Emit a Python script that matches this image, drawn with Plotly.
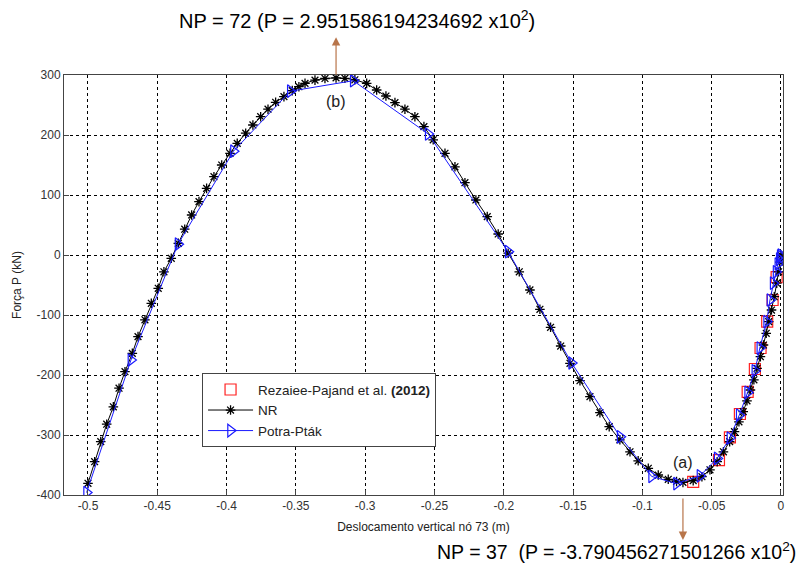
import plotly.graph_objects as go

# Newton-Raphson (NR) equilibrium path: vertical displacement of node 73 (m) vs load P (kN)
nr_x = [-0.5000, -0.4952, -0.4908, -0.4865, -0.4817, -0.4776, -0.4733, -0.4680, -0.4639, -0.4589,
        -0.4543, -0.4493, -0.4452, -0.4399, -0.4348, -0.4302, -0.4252, -0.4199, -0.4144, -0.4091,
        -0.4035, -0.3975, -0.3923, -0.3862, -0.3810, -0.3754, -0.3701, -0.3646, -0.3586, -0.3526,
        -0.3478, -0.3434, -0.3362, -0.3290, -0.3210, -0.3146, -0.3074, -0.2989, -0.2917, -0.2850,
        -0.2785, -0.2713, -0.2641, -0.2576, -0.2509, -0.2424, -0.2352, -0.2280, -0.2201, -0.2119,
        -0.2040, -0.1968, -0.1888, -0.1811, -0.1739, -0.1662, -0.1589, -0.1522, -0.1450, -0.1378,
        -0.1306, -0.1239, -0.1162, -0.1089, -0.1030, -0.0957, -0.0885, -0.0813, -0.0753, -0.0707,
        -0.0633, -0.0570, -0.0512, -0.0460, -0.0415, -0.0370, -0.0335, -0.0303, -0.0272, -0.0245,
        -0.0220, -0.0195, -0.0172, -0.0148, -0.0126, -0.0106, -0.0088, -0.0068, -0.0048, -0.0030,
        -0.0017, -0.0007, 0.0000]
nr_p = [-380.5, -344.5, -311.0, -282.0, -253.0, -222.0, -194.5, -164.0, -136.0, -108.0,
        -80.5, -55.5, -28.0, -5.5, 19.5, 43.0, 66.7, 89.0, 111.0, 130.5,
        150.0, 169.5, 186.0, 203.0, 216.7, 230.5, 243.0, 254.5, 264.0, 274.0,
        280.5, 286.0, 291.5, 294.2, 295.16, 294.5, 292.0, 286.0, 275.0, 265.0,
        254.0, 243.0, 230.5, 214.0, 192.0, 169.5, 147.0, 120.5, 91.7, 64.0,
        35.0, 3.0, -28.0, -58.3, -90.5, -120.5, -151.7, -180.5, -209.5, -236.0,
        -262.8, -286.0, -308.0, -328.0, -343.0, -355.5, -366.7, -373.8, -377.5, -379.05,
        -376.0, -369.5, -358.0, -344.5, -328.0, -311.0, -294.5, -278.0, -261.0, -243.0,
        -225.0, -208.0, -189.0, -169.5, -150.0, -130.5, -111.0, -91.7, -69.5, -47.0,
        -28.0, -12.0, 0.0]

# Potra-Pták path
pp_x = [-0.501, -0.469, -0.435, -0.395, -0.354, -0.3086, -0.2545, -0.1968, -0.151, -0.116,
        -0.0933, -0.0753, -0.0584, -0.046, -0.0368, -0.0301, -0.024, -0.0188, -0.0152, -0.0103,
        -0.0079, -0.0056, -0.0035, -0.0022, -0.0012, -0.0005, 0.0]
pp_p = [-396.0, -175.0, 18.0, 173.0, 273.0, 290.5, 201.7, 5.5, -180.0, -303.0,
        -369.0, -381.0, -368.0, -339.0, -305.0, -267.0, -229.0, -193.0, -155.0, -111.0,
        -75.0, -47.0, -28.0, -15.0, -7.0, -2.0, 0.0]

# Rezaiee-Pajand et al. (2012) reference points
rp_x = [-0.0633, -0.0447, -0.0368, -0.0296, -0.0240, -0.0188, -0.0147, -0.0099, -0.0060, -0.0031]
rp_p = [-378.0, -342.0, -304.0, -265.0, -228.0, -190.0, -155.0, -111.0, -75.0, -37.0]

# Axis ticks
x_ticks = [-0.5, -0.45, -0.4, -0.35, -0.3, -0.25, -0.2, -0.15, -0.1, -0.05, 0]
x_tick_labels = ["-0.5", "-0.45", "-0.4", "-0.35", "-0.3", "-0.25", "-0.2", "-0.15", "-0.1", "-0.05", "0"]
y_ticks = [-400, -300, -200, -100, 0, 100, 200, 300]
y_tick_labels = ["-400", "-300", "-200", "-100", "0", "100", "200", "300"]

# Highlighted limit points (load step NP, load P)
peak_np, peak_x, peak_p = 72, -0.3210, 2.951586194234692e2
valley_np, valley_x, valley_p = 37, -0.0707, -3.790456271501266e2

FONT = "Liberation Sans, Arial, sans-serif"
ARROW = "#b8754a"

fig = go.Figure()

fig.add_trace(go.Scatter(
    x=rp_x, y=rp_p, mode="markers", name="Rezaiee-Pajand et al. <b>(2012)</b>",
    marker=dict(symbol="square-open", size=11, color="#ff2020", line=dict(width=1.2)),
))
fig.add_trace(go.Scatter(
    x=nr_x, y=nr_p, mode="lines+markers", name="NR",
    line=dict(color="black", width=1),
    marker=dict(symbol="asterisk-open", size=8, color="black", line=dict(width=1.3, color="black")),
))
fig.add_trace(go.Scatter(
    x=pp_x, y=pp_p, mode="lines+markers", name="Potra-Pták",
    line=dict(color="#1a1aff", width=1),
    marker=dict(symbol="triangle-right-open", size=11, color="#1a1aff", line=dict(width=1.2)),
))

axis_common = dict(
    showline=True, linecolor="#444", linewidth=1, mirror=True,
    showgrid=True, gridcolor="black", gridwidth=1, griddash="dot",
    ticks="inside", ticklen=5, tickcolor="#444",
    zeroline=False,
    tickfont=dict(family=FONT, size=12, color="#333"),
)

fig.update_xaxes(
    range=[-0.5173, 0.0015], tickvals=x_ticks, ticktext=x_tick_labels,
    title=dict(text="Deslocamento vertical nó 73 (m)", font=dict(family=FONT, size=12, color="#222"),
               standoff=10),
    **axis_common,
)
fig.update_yaxes(
    range=[-400, 300], tickvals=y_ticks, ticktext=y_tick_labels,
    title=dict(text="Força P (kN)", font=dict(family=FONT, size=12, color="#222"), standoff=12),
    **axis_common,
)

fig.update_layout(
    width=801, height=566,
    margin=dict(l=64, r=18, t=75, b=71),
    paper_bgcolor="white", plot_bgcolor="white",
    font=dict(family=FONT, color="#222"),
    showlegend=True,
    legend=dict(
        x=0.192, y=0.29, xanchor="left", yanchor="top",
        bgcolor="white", bordercolor="#444", borderwidth=1,
        font=dict(family=FONT, size=13.5, color="#222"),
        itemwidth=45, tracegroupgap=0,
    ),
)

# Limit point labels
fig.add_annotation(x=peak_x, y=256, xref="x", yref="y", text="(b)", showarrow=False,
                   font=dict(family=FONT, size=16, color="#222"))
fig.add_annotation(x=valley_x, y=-346, xref="x", yref="y", text="(a)", showarrow=False,
                   font=dict(family=FONT, size=16, color="#222"))

# Arrows pointing to the load-step captions
fig.add_annotation(x=peak_x, y=1.09, xref="x", yref="paper", text="", showarrow=True,
                   ax=0, ay=39, arrowhead=2, arrowsize=1.4, arrowwidth=1.2, arrowcolor=ARROW)
fig.add_annotation(x=valley_x, y=-0.107, xref="x", yref="paper", text="", showarrow=True,
                   ax=0, ay=-43, arrowhead=2, arrowsize=1.4, arrowwidth=1.2, arrowcolor=ARROW)

fig.add_annotation(x=0.4075, y=1.131, xref="paper", yref="paper", showarrow=False,
                   xanchor="center", yanchor="middle",
                   text=f"NP = {peak_np} (P = {peak_p / 100:.15f} x10<sup>2</sup>)",
                   font=dict(family=FONT, size=20, color="black"))
fig.add_annotation(x=0.769, y=-0.133, xref="paper", yref="paper", showarrow=False,
                   xanchor="center", yanchor="middle",
                   text=f"NP = {valley_np}  (P = {valley_p / 100:.15f} x10<sup>2</sup>)",
                   font=dict(family=FONT, size=19.5, color="black"))

fig.write_html("out.html")
